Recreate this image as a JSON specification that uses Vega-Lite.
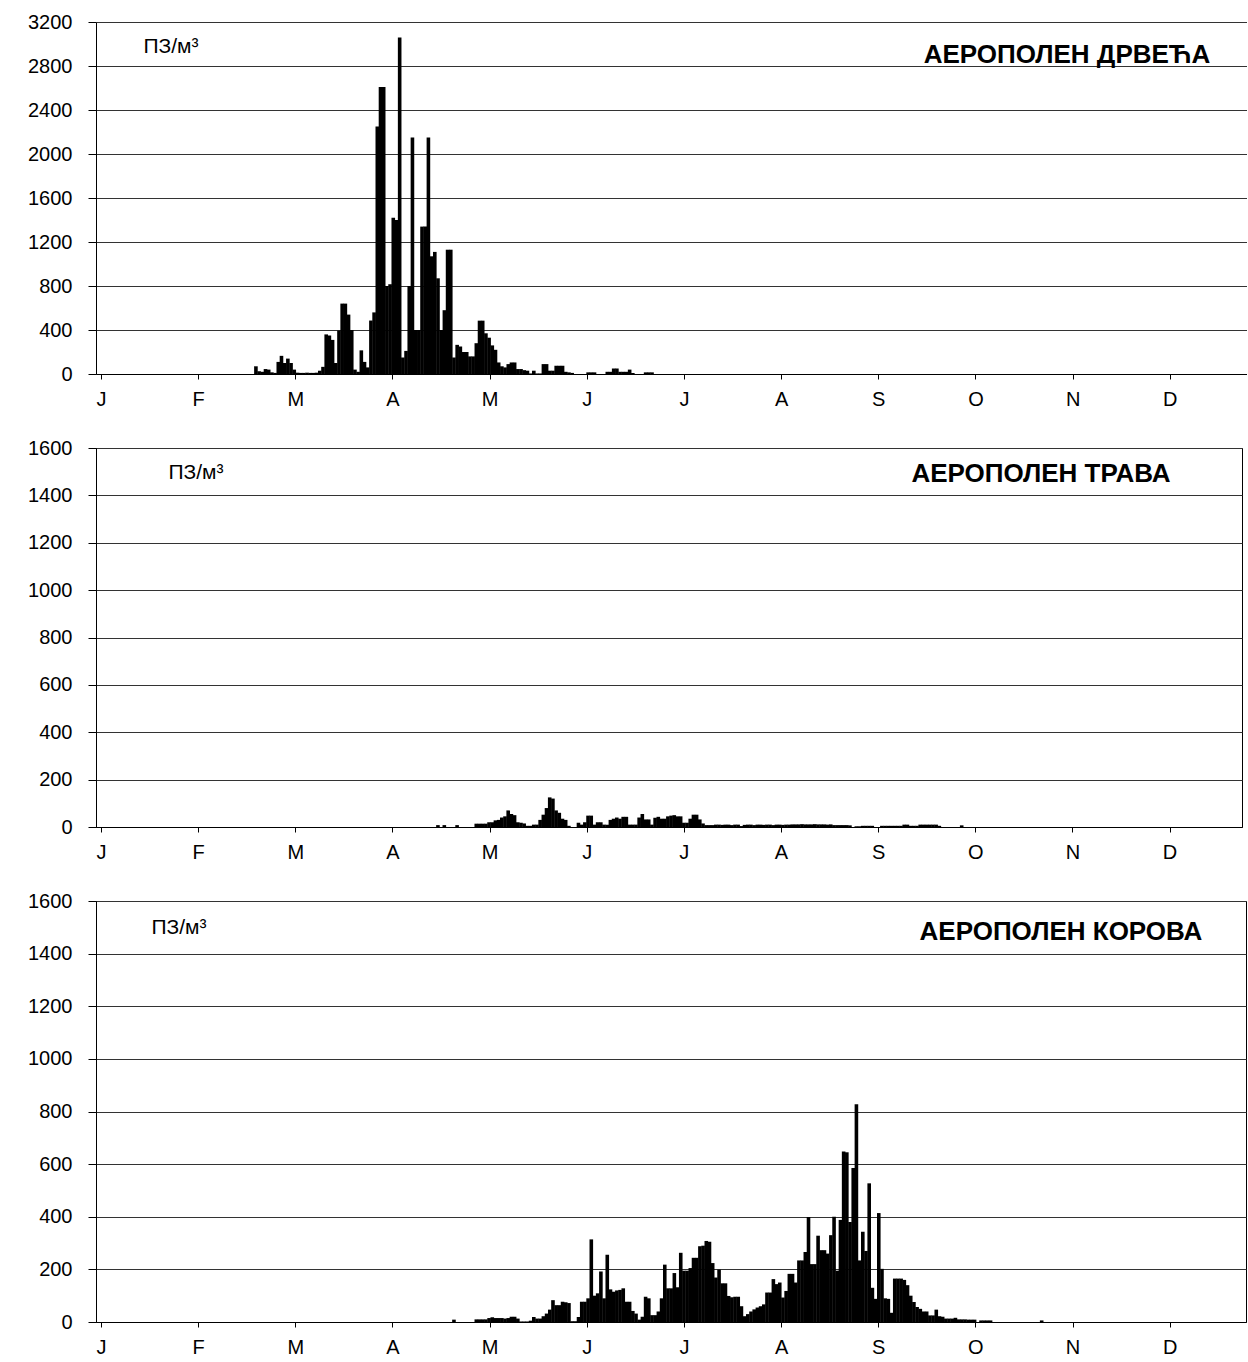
{
"$schema": "https://vega.github.io/schema/vega-lite/v6.json",
"padding": {"left": 27, "top": 12, "right": 0, "bottom": 0},
"autosize": {"type": "pad"},
"bounds": "flush",
"spacing": 74,
"config": {
  "font": "Liberation Sans",
  "view": {"stroke": "black", "strokeWidth": 1},
  "axis": {"labelFont": "Liberation Sans", "labelFontSize": 20, "labelColor": "black", "domainColor": "black", "tickColor": "black", "gridColor": "#333", "gridOpacity": 1}
},
"datasets": {
"trees": [
{"d":48,"v":70},{"d":49,"v":25},{"d":50,"v":20},{"d":51,"v":45},{"d":52,"v":40},{"d":53,"v":15},{"d":54,"v":10},{"d":55,"v":110},{"d":56,"v":165},{"d":57,"v":100},{"d":58,"v":140},{"d":59,"v":100},{"d":60,"v":40},{"d":61,"v":12},{"d":62,"v":10},{"d":63,"v":10},{"d":64,"v":12},{"d":65,"v":10},{"d":66,"v":10},{"d":67,"v":12},{"d":68,"v":30},{"d":69,"v":65},{"d":70,"v":360},{"d":71,"v":350},{"d":72,"v":310},{"d":73,"v":100},{"d":74,"v":395},{"d":75,"v":640},{"d":76,"v":640},{"d":77,"v":540},{"d":78,"v":400},{"d":79,"v":40},{"d":80,"v":20},{"d":81,"v":215},{"d":82,"v":110},{"d":83,"v":60},{"d":84,"v":486},{"d":85,"v":560},{"d":86,"v":2250},{"d":87,"v":2610},{"d":88,"v":2610},{"d":89,"v":800},{"d":90,"v":816},{"d":91,"v":1420},{"d":92,"v":1400},{"d":93,"v":3060},{"d":94,"v":150},{"d":95,"v":210},{"d":96,"v":800},{"d":97,"v":2150},{"d":98,"v":400},{"d":99,"v":400},{"d":100,"v":1340},{"d":101,"v":1340},{"d":102,"v":2150},{"d":103,"v":1070},{"d":104,"v":1110},{"d":105,"v":870},{"d":106,"v":400},{"d":107,"v":580},{"d":108,"v":1130},{"d":109,"v":1130},{"d":110,"v":150},{"d":111,"v":265},{"d":112,"v":250},{"d":113,"v":200},{"d":114,"v":200},{"d":115,"v":160},{"d":116,"v":160},{"d":117,"v":280},{"d":118,"v":485},{"d":119,"v":485},{"d":120,"v":370},{"d":121,"v":330},{"d":122,"v":260},{"d":123,"v":220},{"d":124,"v":105},{"d":125,"v":70},{"d":126,"v":60},{"d":127,"v":90},{"d":128,"v":105},{"d":129,"v":105},{"d":130,"v":45},{"d":131,"v":45},{"d":132,"v":35},{"d":133,"v":30},{"d":134,"v":5},{"d":135,"v":30},{"d":136,"v":5},{"d":137,"v":5},{"d":138,"v":90},{"d":139,"v":90},{"d":140,"v":30},{"d":141,"v":30},{"d":142,"v":75},{"d":143,"v":75},{"d":144,"v":75},{"d":145,"v":20},{"d":146,"v":15},{"d":147,"v":10},{"d":152,"v":15},{"d":153,"v":15},{"d":154,"v":15},{"d":158,"v":20},{"d":159,"v":20},{"d":160,"v":50},{"d":161,"v":50},{"d":162,"v":20},{"d":163,"v":20},{"d":164,"v":20},{"d":165,"v":40},{"d":166,"v":9},{"d":170,"v":15},{"d":171,"v":15},{"d":172,"v":15}
],
"grass": [
{"d":105,"v":8},{"d":107,"v":8},{"d":111,"v":8},{"d":117,"v":14},{"d":118,"v":14},{"d":119,"v":14},{"d":120,"v":14},{"d":121,"v":20},{"d":122,"v":20},{"d":123,"v":28},{"d":124,"v":30},{"d":125,"v":40},{"d":126,"v":45},{"d":127,"v":70},{"d":128,"v":55},{"d":129,"v":50},{"d":130,"v":20},{"d":131,"v":18},{"d":132,"v":15},{"d":133,"v":5},{"d":134,"v":5},{"d":135,"v":10},{"d":136,"v":10},{"d":137,"v":30},{"d":138,"v":52},{"d":139,"v":80},{"d":140,"v":125},{"d":141,"v":120},{"d":142,"v":70},{"d":143,"v":60},{"d":144,"v":35},{"d":145,"v":30},{"d":146,"v":5},{"d":149,"v":18},{"d":150,"v":10},{"d":151,"v":20},{"d":152,"v":48},{"d":153,"v":48},{"d":154,"v":10},{"d":155,"v":20},{"d":156,"v":20},{"d":157,"v":10},{"d":158,"v":10},{"d":159,"v":30},{"d":160,"v":35},{"d":161,"v":40},{"d":162,"v":35},{"d":163,"v":43},{"d":164,"v":43},{"d":165,"v":10},{"d":166,"v":10},{"d":167,"v":10},{"d":168,"v":40},{"d":169,"v":55},{"d":170,"v":32},{"d":171,"v":32},{"d":172,"v":10},{"d":173,"v":39},{"d":174,"v":43},{"d":175,"v":35},{"d":176,"v":35},{"d":177,"v":45},{"d":178,"v":48},{"d":179,"v":50},{"d":180,"v":45},{"d":181,"v":45},{"d":182,"v":18},{"d":183,"v":18},{"d":184,"v":35},{"d":185,"v":52},{"d":186,"v":52},{"d":187,"v":32},{"d":188,"v":15},{"d":189,"v":8},{"d":190,"v":8},{"d":191,"v":8},{"d":192,"v":10},{"d":193,"v":10},{"d":194,"v":9},{"d":195,"v":10},{"d":196,"v":10},{"d":197,"v":8},{"d":198,"v":10},{"d":199,"v":10},{"d":200,"v":4},{"d":201,"v":9},{"d":202,"v":10},{"d":203,"v":10},{"d":204,"v":8},{"d":205,"v":10},{"d":206,"v":10},{"d":207,"v":9},{"d":208,"v":10},{"d":209,"v":10},{"d":210,"v":8},{"d":211,"v":10},{"d":212,"v":10},{"d":213,"v":9},{"d":214,"v":10},{"d":215,"v":10},{"d":216,"v":11},{"d":217,"v":11},{"d":218,"v":11},{"d":219,"v":12},{"d":220,"v":11},{"d":221,"v":11},{"d":222,"v":11},{"d":223,"v":12},{"d":224,"v":11},{"d":225,"v":11},{"d":226,"v":11},{"d":227,"v":10},{"d":228,"v":11},{"d":229,"v":8},{"d":230,"v":8},{"d":231,"v":8},{"d":232,"v":8},{"d":233,"v":8},{"d":234,"v":7},{"d":236,"v":3},{"d":237,"v":3},{"d":238,"v":5},{"d":239,"v":5},{"d":240,"v":5},{"d":241,"v":5},{"d":244,"v":5},{"d":245,"v":5},{"d":246,"v":5},{"d":247,"v":5},{"d":248,"v":5},{"d":249,"v":5},{"d":250,"v":5},{"d":251,"v":10},{"d":252,"v":10},{"d":253,"v":5},{"d":254,"v":5},{"d":255,"v":5},{"d":256,"v":10},{"d":257,"v":10},{"d":258,"v":10},{"d":259,"v":10},{"d":260,"v":10},{"d":261,"v":10},{"d":262,"v":5},{"d":269,"v":7}
],
"weeds": [
{"d":110,"v":9},{"d":117,"v":10},{"d":118,"v":10},{"d":119,"v":10},{"d":120,"v":10},{"d":121,"v":15},{"d":122,"v":18},{"d":123,"v":15},{"d":124,"v":15},{"d":125,"v":15},{"d":126,"v":13},{"d":127,"v":15},{"d":128,"v":20},{"d":129,"v":20},{"d":130,"v":13},{"d":131,"v":2},{"d":132,"v":2},{"d":133,"v":2},{"d":134,"v":5},{"d":135,"v":19},{"d":136,"v":13},{"d":137,"v":13},{"d":138,"v":22},{"d":139,"v":32},{"d":140,"v":47},{"d":141,"v":83},{"d":142,"v":64},{"d":143,"v":64},{"d":144,"v":77},{"d":145,"v":75},{"d":146,"v":72},{"d":147,"v":3},{"d":148,"v":3},{"d":149,"v":19},{"d":150,"v":77},{"d":151,"v":77},{"d":152,"v":90},{"d":153,"v":314},{"d":154,"v":100},{"d":155,"v":109},{"d":156,"v":192},{"d":157,"v":90},{"d":158,"v":256},{"d":159,"v":124},{"d":160,"v":115},{"d":161,"v":120},{"d":162,"v":122},{"d":163,"v":128},{"d":164,"v":77},{"d":165,"v":77},{"d":166,"v":42},{"d":167,"v":32},{"d":168,"v":9},{"d":169,"v":20},{"d":170,"v":96},{"d":171,"v":90},{"d":172,"v":26},{"d":173,"v":26},{"d":174,"v":40},{"d":175,"v":90},{"d":176,"v":218},{"d":177,"v":128},{"d":178,"v":128},{"d":179,"v":186},{"d":180,"v":132},{"d":181,"v":263},{"d":182,"v":195},{"d":183,"v":195},{"d":184,"v":205},{"d":185,"v":244},{"d":186,"v":244},{"d":187,"v":288},{"d":188,"v":290},{"d":189,"v":308},{"d":190,"v":305},{"d":191,"v":224},{"d":192,"v":169},{"d":193,"v":199},{"d":194,"v":147},{"d":195,"v":147},{"d":196,"v":99},{"d":197,"v":94},{"d":198,"v":96},{"d":199,"v":96},{"d":200,"v":60},{"d":201,"v":22},{"d":202,"v":30},{"d":203,"v":40},{"d":204,"v":48},{"d":205,"v":55},{"d":206,"v":60},{"d":207,"v":67},{"d":208,"v":112},{"d":209,"v":112},{"d":210,"v":163},{"d":211,"v":144},{"d":212,"v":150},{"d":213,"v":93},{"d":214,"v":118},{"d":215,"v":183},{"d":216,"v":183},{"d":217,"v":150},{"d":218,"v":234},{"d":219,"v":234},{"d":220,"v":266},{"d":221,"v":399},{"d":222,"v":220},{"d":223,"v":220},{"d":224,"v":328},{"d":225,"v":273},{"d":226,"v":273},{"d":227,"v":260},{"d":228,"v":330},{"d":229,"v":400},{"d":230,"v":195},{"d":231,"v":388},{"d":232,"v":648},{"d":233,"v":645},{"d":234,"v":380},{"d":235,"v":585},{"d":236,"v":828},{"d":237,"v":234},{"d":238,"v":343},{"d":239,"v":270},{"d":240,"v":527},{"d":241,"v":130},{"d":242,"v":88},{"d":243,"v":414},{"d":244,"v":202},{"d":245,"v":90},{"d":246,"v":88},{"d":247,"v":35},{"d":248,"v":165},{"d":249,"v":165},{"d":250,"v":165},{"d":251,"v":160},{"d":252,"v":140},{"d":253,"v":100},{"d":254,"v":76},{"d":255,"v":57},{"d":256,"v":50},{"d":257,"v":40},{"d":258,"v":40},{"d":259,"v":25},{"d":260,"v":25},{"d":261,"v":47},{"d":262,"v":22},{"d":263,"v":20},{"d":264,"v":13},{"d":265,"v":13},{"d":266,"v":13},{"d":267,"v":16},{"d":268,"v":10},{"d":269,"v":10},{"d":270,"v":10},{"d":271,"v":9},{"d":272,"v":9},{"d":273,"v":9},{"d":275,"v":6},{"d":276,"v":6},{"d":277,"v":6},{"d":278,"v":6},{"d":294,"v":6}
],
"ann": [
{"p":1,"k":"unit","d":12.8,"v":2973,"t":"ПЗ/м³"},
{"p":1,"k":"title","d":346.8,"v":2900,"t":"АЕРОПОЛЕН ДРВЕЋА"},
{"p":2,"k":"unit","d":20.6,"v":1496,"t":"ПЗ/м³"},
{"p":2,"k":"title","d":334.4,"v":1491,"t":"АЕРОПОЛЕН ТРАВА"},
{"p":3,"k":"unit","d":15.3,"v":1496,"t":"ПЗ/м³"},
{"p":3,"k":"title","d":344.3,"v":1481,"t":"АЕРОПОЛЕН КОРОВА"}
]
},
"vconcat": [
{
 "width": 1151, "height": 352, "view": {"stroke": null},
 "layer": [
  {"data": {"name": "trees"}, "mark": {"type": "bar", "width": 3.6, "color": "black"},
   "encoding": {
    "x": {"field": "d", "type": "quantitative", "scale": {"domain": [-0.5, 356.7], "nice": false, "zero": false},
      "axis": {"title": null, "values": [-0.5, 29.917, 60.333, 90.75, 121.167, 151.583, 182, 212.417, 242.833, 273.25, 303.667, 334.083], "labelExpr": "['J','F','M','A','M','J','J','A','S','O','N','D'][round((datum.value+0.5)/30.4167)]", "tickSize": 5, "labelPadding": 10, "labelFlush": false, "labelOverlap": false, "grid": false, "labelAngle": 0}},
    "y": {"field": "v", "type": "quantitative", "scale": {"domain": [0, 3200], "nice": false},
      "axis": {"title": null, "values": [0, 400, 800, 1200, 1600, 2000, 2400, 2800, 3200], "format": "d", "tickSize": 8, "labelPadding": 16, "grid": true}}
   }},
  {"data": {"name": "ann"}, "transform": [{"filter": "datum.p == 1 && datum.k == 'unit'"}],
   "mark": {"type": "text", "align": "left", "baseline": "middle", "fontSize": 21, "color": "black", "font": "Liberation Sans"},
   "encoding": {"x": {"field": "d", "type": "quantitative"}, "y": {"field": "v", "type": "quantitative"}, "text": {"field": "t"}}},
  {"data": {"name": "ann"}, "transform": [{"filter": "datum.p == 1 && datum.k == 'title'"}],
   "mark": {"type": "text", "align": "right", "baseline": "middle", "fontSize": 26, "fontWeight": "bold", "color": "black", "font": "Liberation Sans"},
   "encoding": {"x": {"field": "d", "type": "quantitative"}, "y": {"field": "v", "type": "quantitative"}, "text": {"field": "t"}}}
 ]
},
{
 "width": 1146, "height": 379,
 "layer": [
  {"data": {"name": "grass"}, "mark": {"type": "bar", "width": 3.6, "color": "black"},
   "encoding": {
    "x": {"field": "d", "type": "quantitative", "scale": {"domain": [-0.5, 355.2], "nice": false, "zero": false},
      "axis": {"title": null, "values": [-0.5, 29.917, 60.333, 90.75, 121.167, 151.583, 182, 212.417, 242.833, 273.25, 303.667, 334.083], "labelExpr": "['J','F','M','A','M','J','J','A','S','O','N','D'][round((datum.value+0.5)/30.4167)]", "tickSize": 5, "labelPadding": 10, "labelFlush": false, "labelOverlap": false, "grid": false, "labelAngle": 0}},
    "y": {"field": "v", "type": "quantitative", "scale": {"domain": [0, 1600], "nice": false},
      "axis": {"title": null, "values": [0, 200, 400, 600, 800, 1000, 1200, 1400, 1600], "format": "d", "tickSize": 8, "labelPadding": 16, "grid": true}}
   }},
  {"data": {"name": "ann"}, "transform": [{"filter": "datum.p == 2 && datum.k == 'unit'"}],
   "mark": {"type": "text", "align": "left", "baseline": "middle", "fontSize": 21, "color": "black", "font": "Liberation Sans"},
   "encoding": {"x": {"field": "d", "type": "quantitative"}, "y": {"field": "v", "type": "quantitative"}, "text": {"field": "t"}}},
  {"data": {"name": "ann"}, "transform": [{"filter": "datum.p == 2 && datum.k == 'title'"}],
   "mark": {"type": "text", "align": "right", "baseline": "middle", "fontSize": 26, "fontWeight": "bold", "color": "black", "font": "Liberation Sans"},
   "encoding": {"x": {"field": "d", "type": "quantitative"}, "y": {"field": "v", "type": "quantitative"}, "text": {"field": "t"}}}
 ]
},
{
 "width": 1150, "height": 421,
 "layer": [
  {"data": {"name": "weeds"}, "mark": {"type": "bar", "width": 3.6, "color": "black"},
   "encoding": {
    "x": {"field": "d", "type": "quantitative", "scale": {"domain": [-0.5, 356.4], "nice": false, "zero": false},
      "axis": {"title": null, "values": [-0.5, 29.917, 60.333, 90.75, 121.167, 151.583, 182, 212.417, 242.833, 273.25, 303.667, 334.083], "labelExpr": "['J','F','M','A','M','J','J','A','S','O','N','D'][round((datum.value+0.5)/30.4167)]", "tickSize": 5, "labelPadding": 10, "labelFlush": false, "labelOverlap": false, "grid": false, "labelAngle": 0}},
    "y": {"field": "v", "type": "quantitative", "scale": {"domain": [0, 1600], "nice": false},
      "axis": {"title": null, "values": [0, 200, 400, 600, 800, 1000, 1200, 1400, 1600], "format": "d", "tickSize": 8, "labelPadding": 16, "grid": true}}
   }},
  {"data": {"name": "ann"}, "transform": [{"filter": "datum.p == 3 && datum.k == 'unit'"}],
   "mark": {"type": "text", "align": "left", "baseline": "middle", "fontSize": 21, "color": "black", "font": "Liberation Sans"},
   "encoding": {"x": {"field": "d", "type": "quantitative"}, "y": {"field": "v", "type": "quantitative"}, "text": {"field": "t"}}},
  {"data": {"name": "ann"}, "transform": [{"filter": "datum.p == 3 && datum.k == 'title'"}],
   "mark": {"type": "text", "align": "right", "baseline": "middle", "fontSize": 26, "fontWeight": "bold", "color": "black", "font": "Liberation Sans"},
   "encoding": {"x": {"field": "d", "type": "quantitative"}, "y": {"field": "v", "type": "quantitative"}, "text": {"field": "t"}}}
 ]
}
]
}
